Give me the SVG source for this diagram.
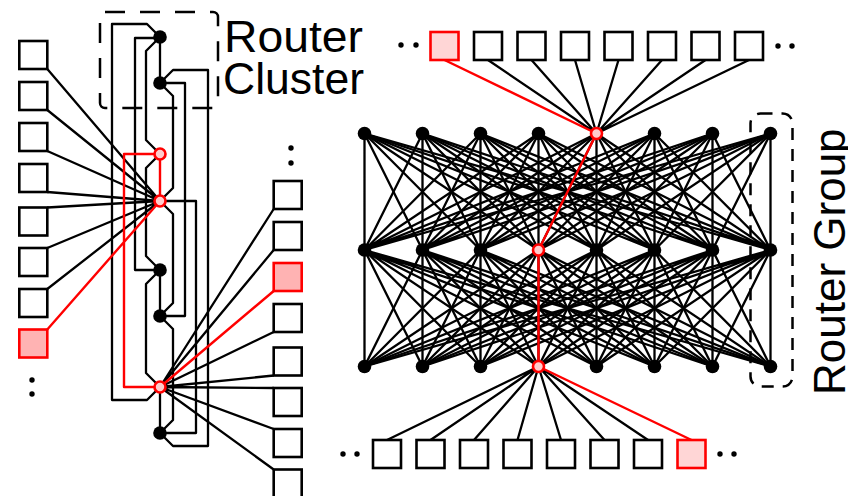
<svg xmlns="http://www.w3.org/2000/svg" width="848" height="496" viewBox="0 0 848 496">
<style>
.ln{fill:none;stroke:#000;stroke-width:2.3;stroke-linejoin:round;stroke-linecap:butt}
.rd{fill:none;stroke:#f00;stroke-width:2.4;stroke-linejoin:round}
.sq{fill:#fff;stroke:#000;stroke-width:2.6}
.sqr{fill:#ffb3b3;stroke:#f00;stroke-width:2.6}
.sqr2{fill:#ffd6d6;stroke:#f00;stroke-width:2.6}
.n{fill:#000}
.nr{fill:#ffcccc;stroke:#f00;stroke-width:2.6}
.dot{fill:#000}
.box{fill:none;stroke:#000;stroke-width:2.5}
.t{font-family:"Liberation Sans",Arial,sans-serif;font-size:44px;fill:#000}
</style>
<g id="connectors">
  <path class="ln" d="M160 37L147 24L112 24L112 400L147 400L160 387"/>
  <path class="ln" d="M160 38L135 38L135 270L160 270"/>
  <path class="ln" d="M160 37L146 51L146 140L160 154"/>
  <path class="ln" d="M160 83L173 70L208 70L208 446L173 446L160 433"/>
  <path class="ln" d="M160 83L185 83L185 316L160 316"/>
  <path class="ln" d="M160 83L173 96L173 188L160 201"/>
  <path class="ln" d="M160 154L146 168L146 256L160 270"/>
  <path class="ln" d="M160 201L196 201L196 433L160 433"/>
  <path class="ln" d="M160 201L173 214L173 303L160 316"/>
  <path class="ln" d="M160 270L146 284L146 373L160 387"/>
  <path class="ln" d="M160 316L173 329L173 420L160 433"/>
  <path class="ln" d="M160 37L160 83M160 270L160 316M160 387L160 433"/>
  <path class="ln" d="M47.3 69L160 201M47.3 110L160 201M47.3 151L160 201M47.3 192L160 201M47.3 207.5L160 201M47.3 248L160 201M47.3 289L160 201"/>
  <path class="ln" d="M273.7 209L160 387M273.7 250L160 387M273.7 332L160 387M273.7 375.5L160 387M273.7 388L160 387M273.7 429L160 387M273.7 469.5L160 387"/>
  <path class="ln" d="M364.5 133.5L364.5 250L364.5 366.5M422.5 133.5L364.5 250L422.5 366.5M480.5 133.5L364.5 250L480.5 366.5M538.5 133.5L364.5 250L538.5 366.5M596.5 133.5L364.5 250L596.5 366.5M654.5 133.5L364.5 250L654.5 366.5M712.5 133.5L364.5 250L712.5 366.5M770.5 133.5L364.5 250L770.5 366.5"/>
  <path class="ln" d="M364.5 133.5L422.5 250L364.5 366.5M422.5 133.5L422.5 250L422.5 366.5M480.5 133.5L422.5 250L480.5 366.5M538.5 133.5L422.5 250L538.5 366.5M596.5 133.5L422.5 250L596.5 366.5M654.5 133.5L422.5 250L654.5 366.5M712.5 133.5L422.5 250L712.5 366.5M770.5 133.5L422.5 250L770.5 366.5"/>
  <path class="ln" d="M364.5 133.5L480.5 250L364.5 366.5M422.5 133.5L480.5 250L422.5 366.5M480.5 133.5L480.5 250L480.5 366.5M538.5 133.5L480.5 250L538.5 366.5M596.5 133.5L480.5 250L596.5 366.5M654.5 133.5L480.5 250L654.5 366.5M712.5 133.5L480.5 250L712.5 366.5M770.5 133.5L480.5 250L770.5 366.5"/>
  <path class="ln" d="M364.5 133.5L538.5 250L364.5 366.5M422.5 133.5L538.5 250L422.5 366.5M480.5 133.5L538.5 250L480.5 366.5M538.5 133.5L538.5 250L538.5 366.5M596.5 133.5L538.5 250L596.5 366.5M654.5 133.5L538.5 250L654.5 366.5M712.5 133.5L538.5 250L712.5 366.5M770.5 133.5L538.5 250L770.5 366.5"/>
  <path class="ln" d="M364.5 133.5L596.5 250L364.5 366.5M422.5 133.5L596.5 250L422.5 366.5M480.5 133.5L596.5 250L480.5 366.5M538.5 133.5L596.5 250L538.5 366.5M596.5 133.5L596.5 250L596.5 366.5M654.5 133.5L596.5 250L654.5 366.5M712.5 133.5L596.5 250L712.5 366.5M770.5 133.5L596.5 250L770.5 366.5"/>
  <path class="ln" d="M364.5 133.5L654.5 250L364.5 366.5M422.5 133.5L654.5 250L422.5 366.5M480.5 133.5L654.5 250L480.5 366.5M538.5 133.5L654.5 250L538.5 366.5M596.5 133.5L654.5 250L596.5 366.5M654.5 133.5L654.5 250L654.5 366.5M712.5 133.5L654.5 250L712.5 366.5M770.5 133.5L654.5 250L770.5 366.5"/>
  <path class="ln" d="M364.5 133.5L712.5 250L364.5 366.5M422.5 133.5L712.5 250L422.5 366.5M480.5 133.5L712.5 250L480.5 366.5M538.5 133.5L712.5 250L538.5 366.5M596.5 133.5L712.5 250L596.5 366.5M654.5 133.5L712.5 250L654.5 366.5M712.5 133.5L712.5 250L712.5 366.5M770.5 133.5L712.5 250L770.5 366.5"/>
  <path class="ln" d="M364.5 133.5L770.5 250L364.5 366.5M422.5 133.5L770.5 250L422.5 366.5M480.5 133.5L770.5 250L480.5 366.5M538.5 133.5L770.5 250L538.5 366.5M596.5 133.5L770.5 250L596.5 366.5M654.5 133.5L770.5 250L654.5 366.5M712.5 133.5L770.5 250L712.5 366.5M770.5 133.5L770.5 250L770.5 366.5"/>
  <path class="ln" d="M488 60L596.5 133.5M531.5 60L596.5 133.5M575 60L596.5 133.5M618.5 60L596.5 133.5M662 60L596.5 133.5M705.5 60L596.5 133.5M749 60L596.5 133.5"/>
  <path class="ln" d="M387 440L538.5 366.5M430.5 440L538.5 366.5M474 440L538.5 366.5M517.5 440L538.5 366.5M561 440L538.5 366.5M604.5 440L538.5 366.5M648 440L538.5 366.5"/>
  <path class="rd" d="M47.3 329.5L160 201L160 154L124 154L124 387L160 387L273.7 291"/>
  <path class="rd" d="M444.5 60L596.5 133.5L538.5 250L538.5 366.5L691.5 440"/>
</g>
<g id="router-cluster-box"><rect class="box" x="100" y="12" width="118" height="96" rx="5" stroke-dasharray="20 15"/></g>
<g id="router-group-box"><rect class="box" x="750.5" y="113.5" width="42" height="273" rx="10" stroke-dasharray="12 9"/></g>
<g id="label-cluster"><text class="t" x="224" y="52" textLength="139" lengthAdjust="spacingAndGlyphs">Router</text><text class="t" x="223" y="94" textLength="141" lengthAdjust="spacingAndGlyphs">Cluster</text></g>
<g id="label-group"><text class="t" transform="translate(845 395) rotate(-90)" font-size="47">Router Group</text></g>
<g id="c1"><circle class="n" cx="160" cy="37" r="6.8"/></g>
<g id="c2"><circle class="n" cx="160" cy="83" r="6.8"/></g>
<g id="c3"><circle class="nr" cx="160" cy="154" r="5.5"/></g>
<g id="c4"><circle class="nr" cx="160" cy="201" r="5.5"/></g>
<g id="c5"><circle class="n" cx="160" cy="270" r="6.8"/></g>
<g id="c6"><circle class="n" cx="160" cy="316" r="6.8"/></g>
<g id="c7"><circle class="nr" cx="160" cy="387" r="5.5"/></g>
<g id="c8"><circle class="n" cx="160" cy="433" r="6.8"/></g>
<g id="lt1"><rect class="sq" x="19.3" y="41" width="28" height="28"/></g>
<g id="lt2"><rect class="sq" x="19.3" y="82" width="28" height="28"/></g>
<g id="lt3"><rect class="sq" x="19.3" y="123" width="28" height="28"/></g>
<g id="lt4"><rect class="sq" x="19.3" y="164" width="28" height="28"/></g>
<g id="lt5"><rect class="sq" x="19.3" y="207.5" width="28" height="28"/></g>
<g id="lt6"><rect class="sq" x="19.3" y="248" width="28" height="28"/></g>
<g id="lt7"><rect class="sq" x="19.3" y="289" width="28" height="28"/></g>
<g id="lt8"><rect class="sqr" x="19.3" y="329.5" width="28" height="28"/></g>
<g id="lt-more"><circle class="dot" cx="32" cy="380" r="2.7"/><circle class="dot" cx="32" cy="394" r="2.7"/></g>
<g id="rt-more"><circle class="dot" cx="291" cy="148" r="2.7"/><circle class="dot" cx="291" cy="163" r="2.7"/></g>
<g id="rt1"><rect class="sq" x="273.7" y="181" width="28" height="28"/></g>
<g id="rt2"><rect class="sq" x="273.7" y="222" width="28" height="28"/></g>
<g id="rt3"><rect class="sqr" x="273.7" y="263" width="28" height="28"/></g>
<g id="rt4"><rect class="sq" x="273.7" y="304" width="28" height="28"/></g>
<g id="rt5"><rect class="sq" x="273.7" y="347.5" width="28" height="28"/></g>
<g id="rt6"><rect class="sq" x="273.7" y="388" width="28" height="28"/></g>
<g id="rt7"><rect class="sq" x="273.7" y="429" width="28" height="28"/></g>
<g id="rt8"><rect class="sq" x="273.7" y="469.5" width="28" height="28"/></g>
<g id="g11"><circle class="n" cx="364.5" cy="133.5" r="6.8"/></g>
<g id="g12"><circle class="n" cx="422.5" cy="133.5" r="6.8"/></g>
<g id="g13"><circle class="n" cx="480.5" cy="133.5" r="6.8"/></g>
<g id="g14"><circle class="n" cx="538.5" cy="133.5" r="6.8"/></g>
<g id="g15"><circle class="nr" cx="596.5" cy="133.5" r="5.5"/></g>
<g id="g16"><circle class="n" cx="654.5" cy="133.5" r="6.8"/></g>
<g id="g17"><circle class="n" cx="712.5" cy="133.5" r="6.8"/></g>
<g id="g18"><circle class="n" cx="770.5" cy="133.5" r="6.8"/></g>
<g id="g21"><circle class="n" cx="364.5" cy="250" r="6.8"/></g>
<g id="g22"><circle class="n" cx="422.5" cy="250" r="6.8"/></g>
<g id="g23"><circle class="n" cx="480.5" cy="250" r="6.8"/></g>
<g id="g24"><circle class="nr" cx="538.5" cy="250" r="5.5"/></g>
<g id="g25"><circle class="n" cx="596.5" cy="250" r="6.8"/></g>
<g id="g26"><circle class="n" cx="654.5" cy="250" r="6.8"/></g>
<g id="g27"><circle class="n" cx="712.5" cy="250" r="6.8"/></g>
<g id="g28"><circle class="n" cx="770.5" cy="250" r="6.8"/></g>
<g id="g31"><circle class="n" cx="364.5" cy="366.5" r="6.8"/></g>
<g id="g32"><circle class="n" cx="422.5" cy="366.5" r="6.8"/></g>
<g id="g33"><circle class="n" cx="480.5" cy="366.5" r="6.8"/></g>
<g id="g34"><circle class="nr" cx="538.5" cy="366.5" r="5.5"/></g>
<g id="g35"><circle class="n" cx="596.5" cy="366.5" r="6.8"/></g>
<g id="g36"><circle class="n" cx="654.5" cy="366.5" r="6.8"/></g>
<g id="g37"><circle class="n" cx="712.5" cy="366.5" r="6.8"/></g>
<g id="g38"><circle class="n" cx="770.5" cy="366.5" r="6.8"/></g>
<g id="tt-more-l"><circle class="dot" cx="401" cy="45" r="2.7"/><circle class="dot" cx="416" cy="45" r="2.7"/></g>
<g id="tt1"><rect class="sqr2" x="430.5" y="32" width="28" height="28"/></g>
<g id="tt2"><rect class="sq" x="474" y="32" width="28" height="28"/></g>
<g id="tt3"><rect class="sq" x="517.5" y="32" width="28" height="28"/></g>
<g id="tt4"><rect class="sq" x="561" y="32" width="28" height="28"/></g>
<g id="tt5"><rect class="sq" x="604.5" y="32" width="28" height="28"/></g>
<g id="tt6"><rect class="sq" x="648" y="32" width="28" height="28"/></g>
<g id="tt7"><rect class="sq" x="691.5" y="32" width="28" height="28"/></g>
<g id="tt8"><rect class="sq" x="735" y="32" width="28" height="28"/></g>
<g id="tt-more-r"><circle class="dot" cx="778" cy="46" r="2.7"/><circle class="dot" cx="792" cy="46" r="2.7"/></g>
<g id="bt-more-l"><circle class="dot" cx="343" cy="454" r="2.7"/><circle class="dot" cx="357" cy="454" r="2.7"/></g>
<g id="bt1"><rect class="sq" x="373" y="440" width="28" height="28"/></g>
<g id="bt2"><rect class="sq" x="416.5" y="440" width="28" height="28"/></g>
<g id="bt3"><rect class="sq" x="460" y="440" width="28" height="28"/></g>
<g id="bt4"><rect class="sq" x="503.5" y="440" width="28" height="28"/></g>
<g id="bt5"><rect class="sq" x="547" y="440" width="28" height="28"/></g>
<g id="bt6"><rect class="sq" x="590.5" y="440" width="28" height="28"/></g>
<g id="bt7"><rect class="sq" x="634" y="440" width="28" height="28"/></g>
<g id="bt8"><rect class="sqr2" x="677.5" y="440" width="28" height="28"/></g>
<g id="bt-more-r"><circle class="dot" cx="720" cy="454" r="2.7"/><circle class="dot" cx="734" cy="454" r="2.7"/></g>
</svg>
